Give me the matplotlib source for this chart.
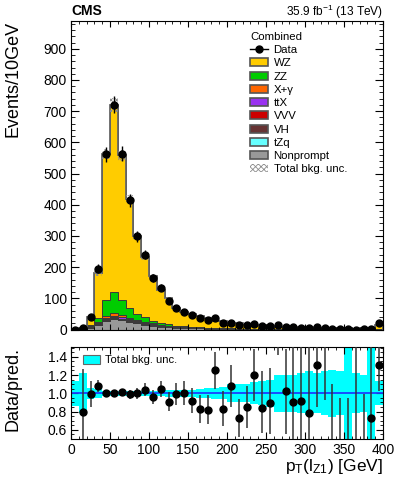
import numpy as np
import matplotlib.pyplot as plt
from matplotlib.patches import Patch
from matplotlib.lines import Line2D
from matplotlib.ticker import MultipleLocator

plt.rcParams['font.family'] = ['Liberation Sans', 'DejaVu Sans']
plt.rcParams['mathtext.fontset'] = 'custom'
plt.rcParams['mathtext.rm'] = 'Liberation Sans'
plt.rcParams['mathtext.it'] = 'Liberation Sans'
plt.rcParams['hatch.linewidth'] = 0.6

# binning: 40 bins of 10 GeV, last bin includes overflow
edges = np.arange(0, 410, 10)
centers = edges[:-1] + 5

data = [0, 4, 40, 195, 562, 721, 564, 414, 299, 240, 165, 134, 91, 68, 57, 46,
        37, 31, 36, 22, 22, 15, 16, 17, 12, 11, 14, 8, 7, 6, 6, 7, 6, 1, 1, 1,
        0, 1, 2, 20]

wz = [0.2, 2.3, 27, 145, 469, 600, 464, 348, 248, 192, 145, 107, 84, 56, 47,
      41.5, 37.5, 31.8, 23.8, 22.2, 16.7, 17.4, 16.1, 11.9, 12.3, 10.6, 5.4,
      6.4, 6.5, 5.45, 6.8, 4.5, 2.3, 2.3, 2.9, 2.9, 0.55, 2.85, 2.3, 12.35]
zz = [0, 0.4, 3, 10, 50, 68, 48, 32, 19, 14, 7, 5, 3.5, 2.5, 2, 1.6, 1.3, 1.1,
      0.9, 0.8, 0.7, 0.6, 0.5, 0.45, 0.4, 0.35, 0.3, 0.25, 0.22, 0.2, 0.18,
      0.16, 0.14, 0.12, 0.1, 0.1, 0.08, 0.08, 0.07, 0.6]
xgamma = [0, 0.5, 2.5, 5, 7, 8, 6, 4.5, 3.2, 2.3, 1.7, 1.3, 1.0, 0.8, 0.6, 0.5,
          0.4, 0.35, 0.3, 0.25, 0.2, 0.18, 0.15, 0.13, 0.11, 0.1, 0.09, 0.08,
          0.07, 0.06, 0.05, 0.05, 0.04, 0.04, 0.03, 0.03, 0.03, 0.03, 0.02, 0.2]
ttx = [0, 0.1, 0.6, 2.2, 4, 5, 5, 4.5, 4, 3.4, 2.9, 2.4, 2.0, 1.7, 1.4, 1.2,
       1.0, 0.85, 0.72, 0.62, 0.53, 0.46, 0.4, 0.35, 0.3, 0.26, 0.23, 0.2,
       0.18, 0.16, 0.14, 0.12, 0.11, 0.1, 0.09, 0.08, 0.07, 0.06, 0.06, 0.5]
vvv = [0, 0.02, 0.15, 0.5, 0.9, 1.1, 1.1, 1.0, 0.95, 0.85, 0.75, 0.65, 0.55,
       0.5, 0.45, 0.4, 0.35, 0.3, 0.27, 0.24, 0.21, 0.19, 0.17, 0.15, 0.13,
       0.12, 0.11, 0.1, 0.09, 0.08, 0.07, 0.06, 0.06, 0.05, 0.05, 0.04, 0.04,
       0.04, 0.03, 0.3]
vh = [0, 0.1, 0.8, 2, 3, 3.5, 3, 2.5, 2, 1.6, 1.2, 1.0, 0.8, 0.6, 0.5, 0.4,
      0.35, 0.3, 0.25, 0.2, 0.18, 0.15, 0.13, 0.11, 0.1, 0.09, 0.08, 0.07,
      0.06, 0.05, 0.05, 0.04, 0.04, 0.03, 0.03, 0.03, 0.02, 0.02, 0.02, 0.2]
tzq = [0, 0.05, 0.3, 0.8, 1.4, 1.8, 1.8, 1.6, 1.4, 1.2, 1.0, 0.85, 0.7, 0.6,
       0.5, 0.42, 0.36, 0.3, 0.26, 0.22, 0.19, 0.16, 0.14, 0.12, 0.1, 0.09,
       0.08, 0.07, 0.06, 0.05, 0.05, 0.04, 0.04, 0.03, 0.03, 0.03, 0.02, 0.02,
       0.02, 0.15]
nonprompt = [0.1, 1.5, 6, 15, 27, 33, 29, 24, 20, 16, 12, 9.5, 7.5, 6, 4.8, 4,
             3.3, 2.8, 2.3, 2, 1.7, 1.4, 1.2, 1, 0.9, 0.8, 0.7, 0.6, 0.5, 0.45,
             0.4, 0.35, 0.3, 0.3, 0.25, 0.25, 0.2, 0.2, 0.2, 1.0]

# relative total background uncertainty per bin
unc = [0.14, 0.22, 0.06, 0.05, 0.03, 0.03, 0.03, 0.03, 0.03, 0.03, 0.03, 0.03,
       0.035, 0.035, 0.04, 0.04, 0.05, 0.055, 0.06, 0.065, 0.1, 0.1, 0.1, 0.12,
       0.13, 0.15, 0.2, 0.2, 0.2, 0.22, 0.24, 0.22, 0.24, 0.26, 0.24, 1.0,
       0.22, 0.2, 1.0, 0.13]

# data / prediction with error bar ends
nan = np.nan
ratio = [nan, 0.80, 0.99, 1.08, 1.00, 1.00, 1.01, 0.99, 1.00, 1.04, 0.96, 1.05,
         0.91, 0.99, 1.00, 0.92, 0.83, 0.82, 1.25, 0.83, 1.08, 0.73, 0.85,
         1.20, 0.84, 0.89, 2.00, 1.02, 0.91, 0.92, 0.78, 1.31, 2.00, 0.33,
         0.29, 0.29, 0.00, 0.30, 0.73, 1.31]
ratio_lo = [nan, 0.35, 0.85, 1.01, 0.96, 0.96, 0.97, 0.94, 0.94, 0.97, 0.88,
            0.96, 0.81, 0.87, 0.87, 0.78, 0.68, 0.66, 1.05, 0.64, 0.85, 0.52,
            0.62, 0.92, 0.57, 0.55, 1.42, 0.55, 0.45, 0.45, 0.40, 0.85, 0.93,
            0.0, 0.0, 0.0, 0.0, 0.0, 0.26, 1.03]
ratio_hi = [nan, 1.27, 1.13, 1.15, 1.04, 1.04, 1.05, 1.04, 1.06, 1.11, 1.04,
            1.14, 1.01, 1.11, 1.13, 1.06, 0.98, 0.98, 1.45, 1.02, 1.31, 0.94,
            1.08, 1.48, 1.24, 1.28, 2.60, 1.48, 1.60, 1.60, 1.60, 1.80, 3.00,
            1.10, 0.95, 0.95, 1.84, 0.99, 1.72, 1.66]

# stack, bottom to top
procs = [
    ('Nonprompt', nonprompt, '#999999'),
    ('tZq', tzq, '#66ffff'),
    ('VH', vh, '#663333'),
    ('VVV', vvv, '#cc0000'),
    ('ttX', ttx, '#9a32f0'),
    ('X+γ', xgamma, '#ff6600'),
    ('ZZ', zz, '#00cc00'),
    ('WZ', wz, '#ffcc00'),
]

fig = plt.figure(figsize=(3.99, 4.83), dpi=100)
ax = fig.add_axes([0.178, 0.3178, 0.782, 0.6393])
ax2 = fig.add_axes([0.178, 0.0911, 0.782, 0.1911])

bottom = np.zeros(len(centers))
for name, vals, col in procs:
    top = bottom + np.array(vals)
    ax.stairs(top, edges, baseline=bottom, fill=True, facecolor=col,
              edgecolor='#3a3a3a', linewidth=0.7)
    bottom = top
total = bottom
ax.stairs(total, edges, color='#666666', linewidth=1.3)

unc = np.array(unc)
ax.stairs(total * (1 + unc), edges, baseline=total * (1 - unc), fill=True,
          facecolor='none', edgecolor='#8c8c8c', hatch='xxxxxx', linewidth=0)

data = np.array(data, dtype=float)
ax.errorbar(centers, data, yerr=np.sqrt(data), fmt='o', color='k', ms=5,
            elinewidth=1, capsize=0, zorder=5)

ax.set_xlim(0, 400)
ax.set_ylim(0, 990)
ax.set_ylabel('Events/10GeV', fontsize=13, loc='top')
ax.yaxis.set_label_coords(-0.158, 1.0)
ax.xaxis.set_major_locator(MultipleLocator(50))
ax.xaxis.set_minor_locator(MultipleLocator(10))
ax.yaxis.set_major_locator(MultipleLocator(100))
ax.yaxis.set_minor_locator(MultipleLocator(20))
ax.tick_params(which='both', direction='in', top=True, right=True,
               labelbottom=False, labelsize=10, pad=3)
ax.tick_params(axis='y', which='major', length=6)
ax.tick_params(axis='y', which='minor', length=3.2)
ax.tick_params(axis='x', which='major', length=4)
ax.tick_params(axis='x', which='minor', length=2.2)

handles = [Line2D([], [], color='k', marker='o', ms=5, lw=1)]
labels = ['Data']
for name, vals, col in reversed(procs):
    handles.append(Patch(facecolor=col, edgecolor='#555555', linewidth=1.2))
    labels.append(name)
handles.append(Patch(facecolor='white', edgecolor='#8c8c8c', hatch='xxxxxx',
                     linewidth=0))
labels.append('Total bkg. unc.')
leg = ax.legend(handles, labels, title='Combined', loc='upper left',
                bbox_to_anchor=(0.556, 0.982), frameon=False, fontsize=8.2,
                title_fontsize=8.2, alignment='left', borderpad=0,
                handlelength=1.6, handleheight=0.7, handletextpad=0.45,
                labelspacing=0.285)

fig.text(0.178, 0.978, 'CMS', fontsize=10, fontweight='bold', ha='left',
         va='center')
fig.text(0.96, 0.976, r'35.9 fb$^{-1}$ (13 TeV)', fontsize=8.6, ha='right',
         va='center')

# ratio panel
ax2.stairs(1 + unc, edges, baseline=1 - unc, fill=True, color='#00ffff',
           label='Total bkg. unc.')
ax2.axhline(1.0, color='#1a40ff', lw=1.3)
ratio = np.array(ratio)
yerr = [ratio - np.array(ratio_lo), np.array(ratio_hi) - ratio]
ax2.errorbar(centers, ratio, yerr=yerr, fmt='o', color='k', ms=5,
             ecolor='#333333', elinewidth=1.1, capsize=0, zorder=5)
ax2.set_xlim(0, 400)
ax2.set_ylim(0.5, 1.51)
ax2.xaxis.set_major_locator(MultipleLocator(50))
ax2.xaxis.set_minor_locator(MultipleLocator(10))
ax2.yaxis.set_major_locator(MultipleLocator(0.2))
ax2.yaxis.set_minor_locator(MultipleLocator(0.05))
ax2.yaxis.set_major_formatter('{x:.1f}')
ax2.set_yticks([0.6, 0.8, 1.0, 1.2, 1.4])
ax2.tick_params(which='both', direction='in', top=True, right=True,
                labelsize=10, pad=3)
ax2.tick_params(which='major', length=5)
ax2.tick_params(which='minor', length=2.5)
ax2.set_ylabel('Data/pred.', fontsize=13, loc='top')
ax2.yaxis.set_label_coords(-0.158, 1.0)
ax2.set_xlabel(r'p$_{\mathrm{T}}$(l$_{\mathrm{Z1}}$) [GeV]', fontsize=12.5,
               loc='right')
ax2.xaxis.set_label_coords(1.0, -0.195)
rl = [Patch(facecolor='#00ffff', edgecolor='#666666', linewidth=0.8)]
ax2.legend(rl, ['Total bkg. unc.'], loc='upper left',
           bbox_to_anchor=(0.022, 0.97), frameon=False, fontsize=8,
           borderpad=0, handlelength=1.45, handleheight=0.85,
           handletextpad=0.5)

fig.savefig('out.png', dpi=100)
